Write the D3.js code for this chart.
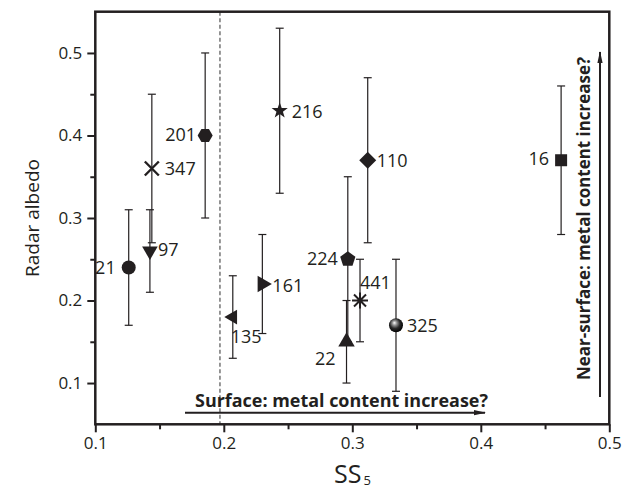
<!DOCTYPE html>
<html>
<head>
<meta charset="utf-8">
<script src="https://cdn.jsdelivr.net/npm/d3@7"></script>
<style>
  body { margin: 0; background: #fff; }
  svg { display: block; font-family: "Open Sans", sans-serif; }
</style>
</head>
<body>
<div id="chart"></div>
<script>
// asteroid ids and their values
const names   = ["21", "97", "347", "201", "135", "161", "216", "110", "224", "22", "441", "325", "16"];
const ss5     = [0.126, 0.1425, 0.144, 0.1855, 0.207, 0.230, 0.2435, 0.312, 0.2965, 0.2955, 0.306, 0.334, 0.4625];
const albedo  = [0.24, 0.26, 0.36, 0.40, 0.18, 0.22, 0.43, 0.37, 0.25, 0.15, 0.20, 0.17, 0.37];
const errLow  = [0.17, 0.21, 0.27, 0.30, 0.13, 0.16, 0.33, 0.27, 0.15, 0.10, 0.15, 0.09, 0.28];
const errHigh = [0.31, 0.31, 0.45, 0.50, 0.23, 0.28, 0.53, 0.47, 0.35, 0.20, 0.25, 0.25, 0.46];
const markers = ["circle", "triDown", "x", "hexagon", "triLeft", "triRight", "star", "diamond", "pentagon", "triUp", "asterisk", "sphere", "square"];

const xTicks = [0.1, 0.2, 0.3, 0.4, 0.5];
const yTicks = [0.1, 0.2, 0.3, 0.4, 0.5];
const xMinor = [0.15, 0.25, 0.35, 0.45];
const yMinor = [0.15, 0.25, 0.35, 0.45];
const splitSS = 0.197;

// label placement relative to the marker (layout only)
const labelPos = [
  {dx: -13, dy: 6, anchor: "end"},
  {dx: 8, dy: 5, anchor: "start"},
  {dx: 13, dy: 7, anchor: "start"},
  {dx: -9, dy: 6, anchor: "end"},
  {dx: -2, dy: 26, anchor: "start"},
  {dx: 10, dy: 8, anchor: "start"},
  {dx: 12, dy: 7, anchor: "start"},
  {dx: 9, dy: 7, anchor: "start"},
  {dx: -10, dy: 6, anchor: "end"},
  {dx: -11, dy: 23, anchor: "end"},
  {dx: 0, dy: -12, anchor: "start"},
  {dx: 11, dy: 7, anchor: "start"},
  {dx: -12, dy: 5, anchor: "end"}
];

const ink = "#231f20";
const width = 630, height = 493;

const svg = d3.select("#chart").append("svg")
    .attr("width", width)
    .attr("height", height);

const x = d3.scaleLinear().domain([0.1, 0.5]).range([95.3, 609.3]);
const y = d3.scaleLinear().domain([0.05, 0.55]).range([424.3, 11.7]);

const defs = svg.append("defs");
const grad = defs.append("radialGradient")
    .attr("id", "ball")
    .attr("cx", "45%").attr("cy", "40%").attr("r", "60%")
    .attr("fx", "38%").attr("fy", "32%");
grad.append("stop").attr("offset", "0%").attr("stop-color", "#ffffff");
grad.append("stop").attr("offset", "25%").attr("stop-color", "#9a9a9a");
grad.append("stop").attr("offset", "60%").attr("stop-color", "#2a2a2a");
grad.append("stop").attr("offset", "100%").attr("stop-color", "#000000");

defs.append("marker")
    .attr("id", "head")
    .attr("viewBox", "0 0 12 6")
    .attr("refX", 11).attr("refY", 3)
    .attr("markerWidth", 12).attr("markerHeight", 6)
    .attr("markerUnits", "userSpaceOnUse")
    .attr("orient", "auto")
  .append("path")
    .attr("d", "M0,0.4L12,3L0,5.6Z")
    .attr("fill", ink);

// dashed divider
svg.append("line")
    .attr("x1", x(splitSS)).attr("x2", x(splitSS))
    .attr("y1", y.range()[1]).attr("y2", y.range()[0])
    .attr("stroke", "#8c8c8c")
    .attr("stroke-width", 1.8)
    .attr("stroke-dasharray", "4,2.5");

// axes
const xAxis = svg.append("g")
    .attr("transform", `translate(0,${y.range()[0]})`)
    .call(d3.axisBottom(x).tickValues(xTicks).tickSize(8).tickPadding(5).tickFormat(d3.format(".1f")));
const xAxisMinor = svg.append("g")
    .attr("transform", `translate(0,${y.range()[0]})`)
    .call(d3.axisBottom(x).tickValues(xMinor).tickSize(5).tickFormat(""));
const yAxis = svg.append("g")
    .attr("transform", `translate(${x.range()[0]},0)`)
    .call(d3.axisLeft(y).tickValues(yTicks).tickSize(8).tickPadding(5).tickFormat(d3.format(".1f")));
const yAxisMinor = svg.append("g")
    .attr("transform", `translate(${x.range()[0]},0)`)
    .call(d3.axisLeft(y).tickValues(yMinor).tickSize(5).tickFormat(""));

[xAxis, xAxisMinor, yAxis, yAxisMinor].forEach(g => {
  g.select(".domain").remove();
  g.selectAll(".tick line").attr("stroke", ink).attr("stroke-width", 2);
  g.selectAll(".tick text").attr("fill", ink).style("font-size", "17px").style("font-family", "Open Sans");
});

// frame
svg.append("rect")
    .attr("x", x.range()[0]).attr("y", y.range()[1])
    .attr("width", x.range()[1] - x.range()[0])
    .attr("height", y.range()[0] - y.range()[1])
    .attr("fill", "none")
    .attr("stroke", ink)
    .attr("stroke-width", 2.5);

// axis titles
const xTitle = svg.append("text")
    .attr("x", 334).attr("y", 483)
    .attr("fill", ink)
    .style("font-size", "25px");
xTitle.append("tspan").text("SS");
xTitle.append("tspan").attr("dx", 2).attr("dy", 2).style("font-size", "13px").text("5");

svg.append("text")
    .attr("transform", "translate(39,218) rotate(-90)")
    .attr("text-anchor", "middle")
    .attr("fill", ink)
    .style("font-size", "19px")
    .text("Radar albedo");

// error bars
const bars = svg.append("g").attr("stroke", ink).attr("stroke-width", 1.2);
names.forEach((n, i) => {
  const cx = x(ss5[i]);
  bars.append("line").attr("x1", cx).attr("x2", cx).attr("y1", y(errLow[i])).attr("y2", y(errHigh[i]));
  [errLow[i], errHigh[i]].forEach(v => {
    bars.append("line").attr("x1", cx - 4).attr("x2", cx + 4).attr("y1", y(v)).attr("y2", y(v));
  });
});

// marker shapes
function poly(n, r, start) {
  const pts = d3.range(n).map(k => {
    const a = start + k * 2 * Math.PI / n;
    return [r * Math.cos(a), r * Math.sin(a)];
  });
  return d3.line()(pts) + "Z";
}
function starPath(ro, ri) {
  const pts = d3.range(10).map(k => {
    const a = -Math.PI / 2 + k * Math.PI / 5;
    const r = k % 2 ? ri : ro;
    return [r * Math.cos(a), r * Math.sin(a)];
  });
  return d3.line()(pts) + "Z";
}
const shapes = {
  triDown: poly(3, 9, Math.PI / 2),
  triUp: poly(3, 9.5, -Math.PI / 2),
  triLeft: poly(3, 8.5, Math.PI),
  triRight: poly(3, 9.5, 0),
  hexagon: poly(6, 7.5, 0),
  pentagon: poly(5, 8, -Math.PI / 2),
  diamond: poly(4, 8.5, 0),
  square: "M-6,-6H6V6H-6Z",
  star: starPath(8.5, 3.4)
};

const marks = svg.append("g");
names.forEach((n, i) => {
  const g = marks.append("g").attr("transform", `translate(${x(ss5[i])},${y(albedo[i])})`);
  const m = markers[i];
  if (m === "circle") {
    g.append("circle").attr("r", 7).attr("fill", ink);
  } else if (m === "sphere") {
    g.append("circle").attr("r", 7).attr("fill", "url(#ball)");
  } else if (m === "x") {
    g.append("path").attr("d", "M-7,-7L7,7M-7,7L7,-7")
      .attr("stroke", ink).attr("stroke-width", 2.4).attr("fill", "none");
  } else if (m === "asterisk") {
    g.append("path").attr("d", "M-8,0H8M-6,-6L6,6M-6,6L6,-6M0,-8V8")
      .attr("stroke", ink).attr("stroke-width", 2).attr("fill", "none");
  } else {
    g.append("path").attr("d", shapes[m]).attr("fill", ink);
  }
});

// point labels
svg.append("g")
    .selectAll("text")
    .data(names)
    .join("text")
    .attr("x", (d, i) => x(ss5[i]) + labelPos[i].dx)
    .attr("y", (d, i) => y(albedo[i]) + labelPos[i].dy)
    .attr("text-anchor", (d, i) => labelPos[i].anchor)
    .attr("fill", ink)
    .style("font-size", "18px")
    .text(d => d);

// annotations
svg.append("line")
    .attr("x1", 185).attr("x2", 485).attr("y1", 412.7).attr("y2", 412.7)
    .attr("stroke", ink).attr("stroke-width", 2)
    .attr("marker-end", "url(#head)");
svg.append("text")
    .attr("x", 195).attr("y", 407)
    .attr("textLength", 293).attr("lengthAdjust", "spacingAndGlyphs")
    .attr("fill", ink)
    .style("font-size", "18px").style("font-weight", "bold")
    .text("Surface: metal content increase?");

svg.append("line")
    .attr("x1", 600).attr("x2", 600).attr("y1", 397).attr("y2", 52)
    .attr("stroke", ink).attr("stroke-width", 2)
    .attr("marker-end", "url(#head)");
svg.append("text")
    .attr("transform", "translate(590,380) rotate(-90)")
    .attr("textLength", 323).attr("lengthAdjust", "spacingAndGlyphs")
    .attr("fill", ink)
    .style("font-size", "18px").style("font-weight", "bold")
    .text("Near-surface: metal content increase?");
</script>
</body>
</html>
